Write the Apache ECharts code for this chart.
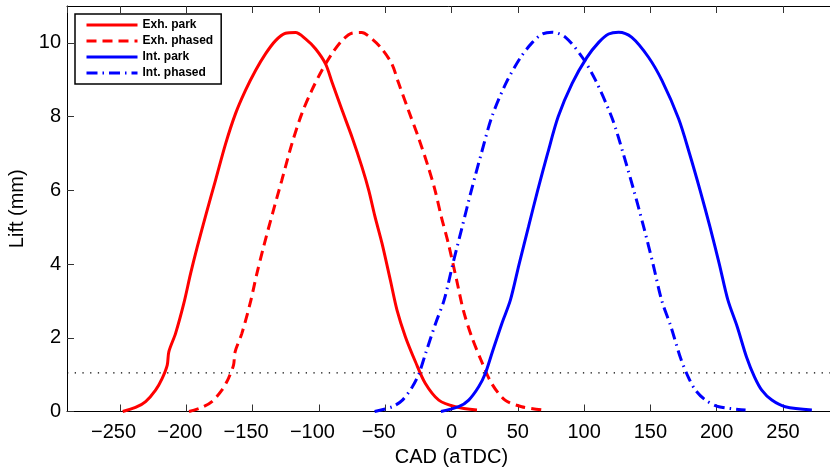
<!DOCTYPE html>
<html>
<head>
<meta charset="utf-8">
<script src="https://cdn.jsdelivr.net/npm/echarts@6/dist/echarts.min.js"></script>
<style>
html,body{margin:0;padding:0;background:#fff;}
#c{width:830px;height:467px;}
</style>
</head>
<body>
<div id="c"></div>
<script>
// ---- data (CAD in deg aTDC, lift in mm) ----
const seriesNames = ['Exh. park', 'Exh. phased', 'Int. park', 'Int. phased'];

const exhPark = [[-248,0],[-238.3,0.11],[-230.7,0.27],[-223.2,0.58],[-218.2,0.9],[-214.4,1.26],[-213.2,1.62],[-208.1,2.12],[-201.9,2.93],[-196.8,3.74],[-191.8,4.46],[-185,5.37],[-178,6.27],[-170.4,7.26],[-162.9,8.08],[-155.4,8.71],[-147.8,9.25],[-140.3,9.7],[-132.7,10.06],[-125.2,10.26],[-117.7,10.28],[-110.1,10.11],[-102.6,9.84],[-95,9.43],[-90.1,8.93],[-82.5,8.17],[-75,7.44],[-67.5,6.63],[-62.4,6.0],[-57.8,5.3],[-52.4,4.56],[-46.1,3.56],[-41.1,2.75],[-34.8,2.03],[-27.2,1.35],[-19.7,0.76],[-9.6,0.31],[2.9,0.13],[19.2,0.04]];

const exhPhased = [[-198,0],[-188.3,0.11],[-180.7,0.27],[-173.2,0.58],[-168.2,0.9],[-164.4,1.26],[-163.2,1.62],[-158.1,2.12],[-151.9,2.93],[-146.8,3.74],[-141.8,4.46],[-135,5.37],[-128,6.27],[-120.4,7.26],[-112.9,8.08],[-105.4,8.71],[-97.8,9.25],[-90.3,9.7],[-82.7,10.06],[-75.2,10.26],[-67.7,10.28],[-60.1,10.11],[-52.6,9.84],[-45,9.43],[-40.1,8.93],[-32.5,8.17],[-25,7.44],[-17.5,6.63],[-12.4,6.0],[-7.8,5.3],[-2.4,4.56],[3.9,3.56],[8.9,2.75],[15.2,2.03],[22.8,1.35],[30.3,0.76],[40.4,0.31],[52.9,0.13],[69.2,0.04]];

const intPark = [[-8,0],[5.4,0.13],[13,0.31],[20.5,0.67],[25.5,1.03],[30.5,1.58],[38,2.39],[44.4,3.02],[51,4.0],[58,5.0],[65,6.0],[72.5,7.0],[80.5,8.0],[91,8.9],[102,9.6],[111.2,10.02],[118.5,10.24],[126,10.29],[136,10.15],[148.6,9.61],[158.7,8.98],[171.3,7.94],[179.5,7.0],[187.5,6.0],[195,5.0],[202,4.0],[208.5,3.02],[215.5,2.3],[222.5,1.48],[228.5,0.94],[234,0.58],[241.6,0.31],[251.7,0.13],[271.8,0.04]];

const intPhased = [[-58,0],[-44.6,0.13],[-37,0.31],[-29.5,0.67],[-24.5,1.03],[-19.5,1.58],[-12,2.39],[-5.6,3.02],[1,4.0],[8,5.0],[15,6.0],[22.5,7.0],[30.5,8.0],[41,8.9],[52,9.6],[61.2,10.02],[68.5,10.24],[76,10.29],[86,10.15],[98.6,9.61],[108.7,8.98],[121.3,7.94],[129.5,7.0],[137.5,6.0],[145,5.0],[152,4.0],[158.5,3.02],[165.5,2.3],[172.5,1.48],[178.5,0.94],[184,0.58],[191.6,0.31],[201.7,0.13],[221.8,0.04]];

const thresholdLine = [[-290,1.05],[290,1.05]];

const xRange = [-290, 290];
const yRange = [0, 11];

// ---- chart ----
const chart = echarts.init(document.getElementById('c'), null, {renderer: 'canvas'});
const FONT = '"Liberation Sans", Arial, Helvetica, sans-serif';

function fmtX(v) {
  if (v < 0) return '{a|\u2212' + Math.abs(v) + '}{s| }';
  return '{a|' + v + '}';
}

const axisTickStyle = {show: true, inside: true, length: 7, lineStyle: {color: '#333', width: 1}};

const option = {
  animation: false,
  backgroundColor: '#fff',
  grid: {left: 67, top: 6, width: 769, height: 405.5, containLabel: false, outerBoundsMode: 'none'},
  legend: {
    data: seriesNames,
    orient: 'vertical',
    left: 75, top: 14,
    padding: [5, 8, 5, 10],
    itemWidth: 51, itemHeight: 12, itemGap: 4,
    backgroundColor: '#fff',
    borderColor: '#000', borderWidth: 1.5, borderRadius: 0,
    itemStyle: {opacity: 0},
    lineStyle: {width: 3},
    textStyle: {fontFamily: FONT, fontSize: 12, fontWeight: 'bold', color: '#000'},
    selectedMode: false
  },
  xAxis: [{
    type: 'value', min: xRange[0], max: xRange[1], splitNumber: 12,
    position: 'bottom',
    name: 'CAD (aTDC)', nameLocation: 'middle', nameGap: 29,
    nameTextStyle: {fontFamily: FONT, fontSize: 20, color: '#000'},
    axisLine: {show: true, onZero: false, lineStyle: {color: '#000', width: 1}},
    axisTick: axisTickStyle,
    axisLabel: {show: true, showMinLabel: false, showMaxLabel: false, margin: 11,
      fontFamily: FONT, fontSize: 20, color: '#000', formatter: fmtX,
      rich: {
        a: {fontFamily: FONT, fontSize: 20, color: '#000'},
        s: {fontFamily: FONT, fontSize: 20, width: 13}
      }},
    splitLine: {show: false}
  }, {
    type: 'value', min: xRange[0], max: xRange[1], splitNumber: 12,
    position: 'top',
    axisLine: {show: true, onZero: false, lineStyle: {color: '#000', width: 1}},
    axisTick: axisTickStyle,
    axisLabel: {show: false},
    splitLine: {show: false}
  }],
  yAxis: {
    type: 'value', min: yRange[0], max: yRange[1], interval: 2,
    name: 'Lift (mm)', nameLocation: 'middle', nameGap: 34, nameRotate: 90,
    nameTextStyle: {fontFamily: FONT, fontSize: 20, color: '#000'},
    axisLine: {show: true, onZero: false, lineStyle: {color: '#000', width: 1}},
    axisTick: axisTickStyle,
    axisLabel: {show: true, showMaxLabel: false, margin: 6,
      fontFamily: FONT, fontSize: 20, color: '#000'},
    splitLine: {show: false}
  },
  series: [
    {name: 'threshold', type: 'line', data: thresholdLine, showSymbol: false, symbol: 'none',
     lineStyle: {color: '#000', width: 1.3, type: [1.3, 6.4]}, silent: true, z: 1},
    {name: 'Exh. park', type: 'line', data: exhPark, showSymbol: false, symbol: 'none', smooth: 0.3,
     itemStyle: {color: '#ff0000'}, lineStyle: {color: '#ff0000', width: 3, type: 'solid'}, z: 3},
    {name: 'Exh. phased', type: 'line', data: exhPhased, showSymbol: false, symbol: 'none', smooth: 0.3,
     itemStyle: {color: '#ff0000'}, lineStyle: {color: '#ff0000', width: 3, type: [10, 6]}, z: 3},
    {name: 'Int. park', type: 'line', data: intPark, showSymbol: false, symbol: 'none', smooth: 0.3,
     itemStyle: {color: '#0000ff'}, lineStyle: {color: '#0000ff', width: 3, type: 'solid'}, z: 3},
    {name: 'Int. phased', type: 'line', data: intPhased, showSymbol: false, symbol: 'none', smooth: 0.3,
     itemStyle: {color: '#0000ff'}, lineStyle: {color: '#0000ff', width: 3, type: [11, 5, 1.5, 5]}, z: 3}
  ]
};
chart.setOption(option);
</script>
</body>
</html>
